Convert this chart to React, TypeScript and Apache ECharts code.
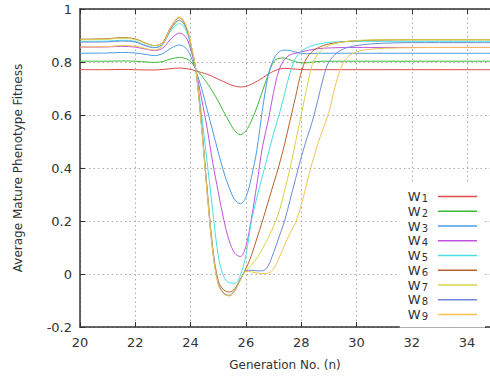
import React, { useEffect, useRef } from "react";
import * as echarts from "echarts";

const X = [20, 21, 21.5, 22, 22.4, 22.7, 23, 23.3, 23.6, 23.85, 24.05, 24.2, 24.4, 24.6, 24.8, 25, 25.2, 25.4, 25.6, 25.8, 26, 26.2, 26.4, 26.6, 26.8, 27, 27.2, 27.4, 27.6, 27.8, 28, 28.2, 28.4, 28.6, 28.8, 29, 29.3, 29.6, 30, 30.5, 31, 32, 33, 34, 35];

const W1 = [0.771, 0.771, 0.772, 0.771, 0.770, 0.770, 0.772, 0.775, 0.777, 0.775, 0.771, 0.766, 0.760, 0.754, 0.745, 0.735, 0.726, 0.716, 0.709, 0.706, 0.708, 0.716, 0.727, 0.740, 0.754, 0.765, 0.773, 0.776, 0.775, 0.773, 0.772, 0.771, 0.771, 0.771, 0.771, 0.771, 0.771, 0.771, 0.771, 0.771, 0.771, 0.771, 0.771, 0.771, 0.771];
const W2 = [0.803, 0.803, 0.804, 0.803, 0.800, 0.798, 0.802, 0.812, 0.817, 0.812, 0.797, 0.772, 0.748, 0.720, 0.688, 0.652, 0.612, 0.574, 0.540, 0.526, 0.540, 0.578, 0.630, 0.690, 0.750, 0.800, 0.814, 0.815, 0.808, 0.801, 0.797, 0.797, 0.800, 0.802, 0.803, 0.803, 0.803, 0.803, 0.803, 0.803, 0.803, 0.803, 0.803, 0.803, 0.803];
const W3 = [0.833, 0.834, 0.836, 0.834, 0.828, 0.824, 0.832, 0.853, 0.864, 0.850, 0.810, 0.765, 0.700, 0.620, 0.540, 0.460, 0.385, 0.325, 0.280, 0.265, 0.290, 0.365, 0.470, 0.620, 0.745, 0.810, 0.838, 0.845, 0.843, 0.837, 0.833, 0.831, 0.832, 0.833, 0.833, 0.833, 0.833, 0.833, 0.833, 0.833, 0.833, 0.833, 0.833, 0.833, 0.833];
const W4 = [0.856, 0.857, 0.859, 0.856, 0.848, 0.843, 0.853, 0.888, 0.909, 0.890, 0.830, 0.765, 0.660, 0.550, 0.420, 0.310, 0.205, 0.125, 0.078, 0.066, 0.105, 0.210, 0.340, 0.480, 0.575, 0.685, 0.770, 0.810, 0.827, 0.833, 0.838, 0.843, 0.847, 0.850, 0.852, 0.853, 0.854, 0.855, 0.855, 0.855, 0.855, 0.855, 0.855, 0.855, 0.855];
const W5 = [0.878, 0.879, 0.882, 0.878, 0.862, 0.855, 0.868, 0.920, 0.945, 0.915, 0.840, 0.765, 0.600, 0.420, 0.240, 0.070, -0.010, -0.033, -0.035, -0.005, 0.070, 0.200, 0.290, 0.370, 0.450, 0.530, 0.600, 0.680, 0.760, 0.815, 0.840, 0.853, 0.862, 0.867, 0.871, 0.874, 0.876, 0.877, 0.878, 0.878, 0.878, 0.878, 0.878, 0.878, 0.878];
const W6 = [0.886, 0.888, 0.892, 0.887, 0.870, 0.862, 0.875, 0.935, 0.967, 0.930, 0.845, 0.765, 0.560, 0.320, 0.100, -0.025, -0.060, -0.068, -0.055, -0.020, 0.020, 0.070, 0.135, 0.200, 0.270, 0.340, 0.410, 0.490, 0.580, 0.670, 0.760, 0.815, 0.840, 0.853, 0.862, 0.868, 0.873, 0.877, 0.880, 0.882, 0.883, 0.884, 0.884, 0.884, 0.884];
const W7 = [0.884, 0.886, 0.890, 0.885, 0.869, 0.862, 0.873, 0.925, 0.955, 0.925, 0.845, 0.765, 0.555, 0.310, 0.090, -0.035, -0.072, -0.080, -0.060, -0.020, 0.012, 0.035, 0.060, 0.095, 0.135, 0.180, 0.235, 0.315, 0.400, 0.500, 0.600, 0.700, 0.790, 0.830, 0.850, 0.862, 0.872, 0.877, 0.881, 0.883, 0.884, 0.884, 0.884, 0.884, 0.884];
const W8 = [0.875, 0.876, 0.879, 0.875, 0.860, 0.854, 0.868, 0.928, 0.958, 0.925, 0.845, 0.765, 0.555, 0.310, 0.090, -0.035, -0.072, -0.081, -0.062, -0.020, 0.012, 0.014, 0.012, 0.012, 0.030, 0.080, 0.140, 0.200, 0.280, 0.360, 0.440, 0.510, 0.575, 0.655, 0.740, 0.800, 0.835, 0.852, 0.862, 0.868, 0.871, 0.873, 0.873, 0.873, 0.873];
const W9 = [0.857, 0.858, 0.862, 0.860, 0.850, 0.845, 0.865, 0.935, 0.970, 0.935, 0.850, 0.765, 0.550, 0.305, 0.085, -0.040, -0.075, -0.083, -0.065, -0.025, 0.010, 0.008, 0.004, 0.002, 0.003, 0.020, 0.060, 0.110, 0.155, 0.195, 0.260, 0.340, 0.420, 0.490, 0.550, 0.610, 0.735, 0.810, 0.838, 0.848, 0.852, 0.854, 0.855, 0.855, 0.855];

const SERIES_NAMES = ["W1", "W2", "W3", "W4", "W5", "W6", "W7", "W8", "W9"];
const SERIES_VALUES = [W1, W2, W3, W4, W5, W6, W7, W8, W9];
const COLORS = ["#dc4a4a", "#3cba3c", "#4c9ce2", "#c052e0", "#44e0e6", "#b8602c", "#d4d448", "#6f8ad8", "#f2c552"];

const FONT = "DejaVu Sans";

export default function App() {
  const ref = useRef<HTMLDivElement>(null);
  useEffect(() => {
    if (!ref.current) return;
    const chart = echarts.init(ref.current, undefined, { renderer: "svg" });
    const axisLine = { show: true, onZero: false, lineStyle: { color: "#333", width: 1.5 } };
    const tick = { show: true, inside: true, length: 5, lineStyle: { color: "#333" } };
    const split = { show: true, lineStyle: { color: "#aaa", type: [1.5, 3] as any, width: 1 } };
    chart.setOption({
      animation: false,
      backgroundColor: "#fff",
      textStyle: { fontFamily: FONT },
      grid: { left: 80, right: 0, top: 9, bottom: 53, containLabel: false },
      xAxis: [
        {
          type: "value",
          min: 20,
          max: 34.83,
          interval: 2,
          position: "bottom",
          name: "Generation No. (n)",
          nameLocation: "middle",
          nameGap: 32,
          nameTextStyle: { fontSize: 12, color: "#333", fontFamily: FONT },
          axisLine,
          axisTick: tick,
          axisLabel: { fontSize: 13, color: "#333", margin: 9, showMaxLabel: false, fontFamily: FONT },
          splitLine: split,
        },
        {
          type: "value",
          min: 20,
          max: 34.83,
          interval: 2,
          position: "top",
          axisLine,
          axisTick: tick,
          axisLabel: { show: false },
          splitLine: { show: false },
        },
      ],
      yAxis: {
        type: "value",
        min: -0.2,
        max: 1,
        interval: 0.2,
        name: "Average Mature Phenotype Fitness",
        nameLocation: "middle",
        nameGap: 56,
        nameTextStyle: { fontSize: 12, color: "#333", fontFamily: FONT },
        axisLine,
        axisTick: tick,
        axisLabel: { fontSize: 13, color: "#333", margin: 8, fontFamily: FONT },
        splitLine: split,
      },
      legend: {
        orient: "vertical",
        align: "right",
        right: 5,
        top: 184,
        padding: [6, 8, 6, 8],
        backgroundColor: "#fff",
        icon: "rect",
        itemWidth: 39,
        itemHeight: 1.3,
        itemGap: 1.25,
        selectedMode: false,
        data: SERIES_NAMES,
        formatter: (name: string) => `{w|W}{s|${name.slice(1)}}`,
        textStyle: {
          fontFamily: FONT,
          rich: {
            w: { fontSize: 13, color: "#333", lineHeight: 14, fontFamily: FONT },
            s: { fontSize: 10, color: "#333", lineHeight: 5, verticalAlign: "bottom", padding: [0, 5, 0, 1], fontFamily: FONT },
          },
        },
      },
      series: SERIES_NAMES.map((name, i) => ({
        name,
        type: "line",
        xAxisIndex: 0,
        symbol: "none",
        smooth: 0.35,
        clip: true,
        lineStyle: { width: 1, color: COLORS[i] },
        itemStyle: { color: COLORS[i] },
        data: X.map((x, j) => [x, SERIES_VALUES[i][j]]),
      })),
    });
    return () => chart.dispose();
  }, []);
  return <div ref={ref} style={{ position: "fixed", left: 0, top: 0, width: 490, height: 380 }} />;
}
